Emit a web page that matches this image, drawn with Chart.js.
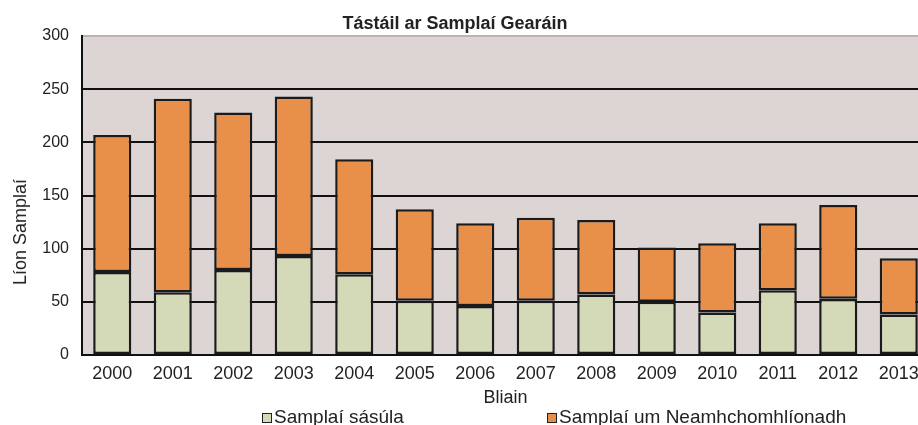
<!DOCTYPE html>
<html>
<head>
<meta charset="utf-8">
<script src="https://cdn.jsdelivr.net/npm/chart.js@4"></script>
<style>
    body { margin: 0; background: #fff; }
    #wrap { position: relative; width: 918px; height: 425px; overflow: hidden; font-family: "Liberation Sans", Arial, sans-serif; color: #222; }
    #chart { position: absolute; left: 0; top: 0; }
    #title { position: absolute; left: 455px; top: 14px; transform: translateX(-50%); font-size: 18px; line-height: 18px; font-weight: bold; white-space: nowrap; }
    #ytitle { position: absolute; left: 20px; top: 232px; transform: translate(-50%, -50%) rotate(-90deg); font-size: 18px; line-height: 18px; white-space: nowrap; }
    .legend-item { position: absolute; top: 407px; font-size: 19px; line-height: 19px; white-space: nowrap; }
    .legend-box { position: absolute; top: 6px; width: 8px; height: 8px; border: 1px solid #222; }
</style>
</head>
<body>
<div id="wrap">
    <canvas id="chart" width="950" height="425"></canvas>
    <div id="title">Tástáil ar Samplaí Gearáin</div>
    <div id="ytitle">Líon Samplaí</div>
</div>
<script>
const years = ['2000', '2001', '2002', '2003', '2004', '2005', '2006', '2007', '2008', '2009', '2010', '2011', '2012', '2013'];
const satisfactory = [78, 59, 80, 93, 76, 51, 46, 51, 57, 50, 40, 61, 53, 38];
const nonCompliant = [129, 182, 148, 150, 108, 86, 78, 78, 70, 51, 65, 63, 88, 53];
const seriesNames = ['Samplaí sásúla', 'Samplaí um Neamhchomhlíonadh'];
const seriesColors = ['#d4d9b7', '#e88f4a'];
const legendLeft = [262, 547];

// grey plot background behind the grid
const plotBackground = {
    id: 'plotBackground',
    beforeDraw(chart) {
        const a = chart.chartArea;
        const ctx = chart.ctx;
        ctx.save();
        ctx.fillStyle = '#ddd5d3';
        ctx.fillRect(a.left, a.top, a.right - a.left, a.bottom - a.top);
        ctx.restore();
    }
};

const ctx = document.getElementById('chart').getContext('2d');
new Chart(ctx, {
    type: 'bar',
    data: {
        labels: years,
        datasets: [
            {
                label: seriesNames[0],
                data: satisfactory,
                backgroundColor: seriesColors[0],
                borderColor: '#1b1b1b',
                borderWidth: 2.5,
                borderSkipped: false
            },
            {
                label: seriesNames[1],
                data: nonCompliant,
                backgroundColor: seriesColors[1],
                borderColor: '#1b1b1b',
                borderWidth: 2.5,
                borderSkipped: false
            }
        ]
    },
    options: {
        responsive: false,
        animation: false,
        layout: { padding: { top: 36, right: 21, bottom: 0, left: 0 } },
        datasets: { bar: { categoryPercentage: 0.63, barPercentage: 1 } },
        plugins: {
            legend: { display: false },
            title: { display: false },
            tooltip: { enabled: false }
        },
        scales: {
            x: {
                stacked: true,
                grid: { display: false },
                border: { display: true, color: '#111', width: 2 },
                ticks: {
                    color: '#222',
                    padding: 0,
                    maxRotation: 0,
                    font: { family: 'Liberation Sans', size: 18 }
                },
                title: {
                    display: true,
                    text: 'Bliain',
                    color: '#222',
                    padding: { top: 0, bottom: 16 },
                    font: { family: 'Liberation Sans', size: 18 }
                },
                afterFit: function (scale) {
                    scale.height = 70;
                }
            },
            y: {
                stacked: true,
                min: 0,
                max: 300,
                grid: {
                    drawTicks: false,
                    lineWidth: 2,
                    color: function (c) {
                        return c.tick && c.tick.value === 300 ? '#bdb4b2' : '#111';
                    }
                },
                border: { display: true, color: '#111', width: 2 },
                ticks: {
                    stepSize: 50,
                    color: '#222',
                    padding: 13,
                    font: { family: 'Liberation Sans', size: 16 }
                },
                afterFit: function (scale) {
                    scale.width = 82;
                }
            }
        }
    },
    plugins: [plotBackground]
});

// legend built from the series names and colours
const wrap = document.getElementById('wrap');
seriesNames.forEach(function (name, i) {
    const item = document.createElement('div');
    item.className = 'legend-item';
    item.style.left = legendLeft[i] + 'px';
    const box = document.createElement('span');
    box.className = 'legend-box';
    box.style.left = '0px';
    box.style.background = seriesColors[i];
    const text = document.createElement('span');
    text.textContent = name;
    text.style.marginLeft = '12px';
    item.appendChild(box);
    item.appendChild(text);
    wrap.appendChild(item);
});
</script>
</body>
</html>
